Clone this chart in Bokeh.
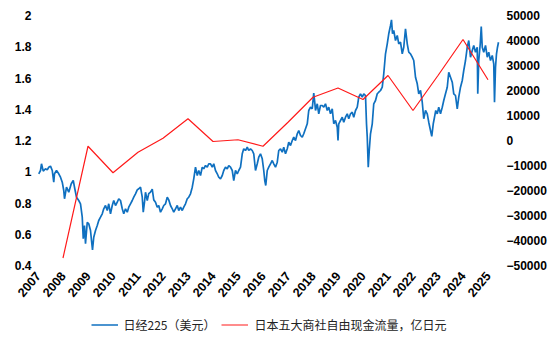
import math
from bokeh.plotting import figure
from bokeh.layouts import column
from bokeh.models import (Range1d, LinearAxis, FixedTicker, NumeralTickFormatter,
                          Legend, LegendItem, BasicTickFormatter)
from bokeh.embed import file_html
from bokeh.resources import INLINE

# ---- data ----
nikkei_years = [
    2007.03, 2007.10, 2007.14, 2007.21, 2007.30, 2007.37, 2007.43, 2007.50, 2007.57, 2007.63,
    2007.66, 2007.74, 2007.83, 2007.90, 2007.97, 2008.03, 2008.06, 2008.14, 2008.23, 2008.33,
    2008.41, 2008.46, 2008.54, 2008.63, 2008.70, 2008.77, 2008.81, 2008.86, 2008.90, 2008.97,
    2009.03, 2009.10, 2009.14, 2009.18, 2009.23, 2009.30, 2009.37, 2009.43, 2009.50, 2009.57,
    2009.63, 2009.70, 2009.77, 2009.83, 2009.90, 2009.97, 2010.03, 2010.10, 2010.17, 2010.23,
    2010.30, 2010.37, 2010.43, 2010.50, 2010.57, 2010.63, 2010.70, 2010.77, 2010.83, 2010.90,
    2010.97, 2011.03, 2011.10, 2011.17, 2011.21, 2011.26, 2011.30, 2011.37, 2011.43, 2011.50,
    2011.57, 2011.63, 2011.70, 2011.77, 2011.83, 2011.90, 2011.97, 2012.03, 2012.10, 2012.17,
    2012.23, 2012.30, 2012.37, 2012.43, 2012.50, 2012.57, 2012.63, 2012.70, 2012.77, 2012.83,
    2012.90, 2012.97, 2013.03, 2013.10, 2013.17, 2013.23, 2013.30, 2013.37, 2013.43, 2013.50,
    2013.57, 2013.63, 2013.70, 2013.77, 2013.83, 2013.90,
    2013.97, 2014.03, 2014.10, 2014.17, 2014.23, 2014.30, 2014.37, 2014.43, 2014.50, 2014.57,
    2014.63, 2014.70, 2014.77, 2014.83, 2014.90, 2014.97, 2015.03, 2015.10, 2015.17, 2015.23,
    2015.30, 2015.37, 2015.43, 2015.50, 2015.57, 2015.63, 2015.70, 2015.77, 2015.83, 2015.90,
    2015.97, 2016.03, 2016.07, 2016.11, 2016.17, 2016.23, 2016.30, 2016.37, 2016.43, 2016.50,
    2016.57, 2016.63, 2016.70, 2016.77, 2016.83, 2016.90, 2016.97, 2017.03, 2017.10, 2017.17,
    2017.23, 2017.30, 2017.37, 2017.43, 2017.50, 2017.57, 2017.63, 2017.70, 2017.77, 2017.83,
    2017.90, 2017.97, 2018.03, 2018.07, 2018.10, 2018.17, 2018.23, 2018.30, 2018.37, 2018.43,
    2018.50, 2018.57, 2018.63, 2018.70, 2018.77, 2018.83, 2018.90, 2018.97, 2019.00, 2019.03,
    2019.10, 2019.17, 2019.23, 2019.30, 2019.37, 2019.43, 2019.50, 2019.57, 2019.63, 2019.70,
    2019.77, 2019.83, 2019.90, 2019.97, 2020.03, 2020.10, 2020.14, 2020.17, 2020.21, 2020.25,
    2020.30, 2020.37, 2020.43, 2020.50, 2020.57, 2020.63, 2020.70,
    2020.77, 2020.83, 2020.90, 2020.97, 2021.03, 2021.10, 2021.14, 2021.18, 2021.23, 2021.30,
    2021.37, 2021.43, 2021.50, 2021.57, 2021.63, 2021.70, 2021.77, 2021.83, 2021.90, 2021.97,
    2022.03, 2022.10, 2022.17, 2022.23, 2022.30, 2022.37, 2022.43, 2022.50, 2022.57, 2022.63,
    2022.70, 2022.75, 2022.81, 2022.86, 2022.91, 2022.97, 2023.03, 2023.10, 2023.17, 2023.23,
    2023.30, 2023.37, 2023.43, 2023.50, 2023.57, 2023.63, 2023.70, 2023.77, 2023.83, 2023.90,
    2023.97, 2024.03, 2024.10, 2024.17, 2024.23, 2024.30, 2024.37, 2024.43, 2024.50, 2024.57,
    2024.59, 2024.63, 2024.69, 2024.73, 2024.77, 2024.83, 2024.90, 2024.97, 2025.03, 2025.10,
    2025.17, 2025.23, 2025.26, 2025.30, 2025.34, 2025.38, 2025.42,
]
nikkei_usd = [
    0.987, 1.008, 1.051, 1.004, 1.019, 1.012, 1.029, 1.036, 1.008, 0.933,
    0.987, 1.008, 0.987, 0.965, 0.933, 0.880, 0.827, 0.901, 0.869, 0.923,
    0.944, 0.901, 0.837, 0.816, 0.795, 0.709, 0.571, 0.656, 0.539, 0.677,
    0.667, 0.624, 0.560, 0.500, 0.581, 0.624, 0.656, 0.688, 0.709, 0.731,
    0.763, 0.784, 0.752, 0.795, 0.731, 0.784, 0.816, 0.784, 0.805, 0.827,
    0.816, 0.763, 0.731, 0.763, 0.741, 0.773, 0.795, 0.816, 0.837, 0.859,
    0.884, 0.891, 0.901, 0.837, 0.741, 0.805, 0.869, 0.816, 0.860, 0.870,
    0.889, 0.820, 0.805, 0.773, 0.784, 0.741, 0.763, 0.784, 0.795, 0.837,
    0.820, 0.784, 0.763, 0.741, 0.763, 0.784, 0.752, 0.773, 0.752, 0.773,
    0.795, 0.827, 0.837, 0.859, 0.901, 0.955, 1.029, 0.976, 1.008, 0.976,
    1.029, 1.019, 1.040, 1.029, 1.051, 1.051,
    1.029, 1.051, 1.008, 0.987, 0.965, 0.955, 0.976, 1.008, 1.029, 1.019,
    1.040, 1.029, 1.008, 0.944, 1.008, 0.987, 1.008, 1.029, 1.115, 1.147,
    1.136, 1.157, 1.136, 1.147, 1.136, 1.115, 1.008, 1.051, 1.093, 1.115,
    1.083, 1.008, 0.944, 0.912, 1.008, 1.029, 1.051, 1.072, 1.051, 1.029,
    1.061, 1.136, 1.147, 1.125, 1.157, 1.115, 1.147, 1.189, 1.168, 1.200,
    1.221, 1.200, 1.243, 1.264, 1.232, 1.221, 1.243, 1.275, 1.307, 1.392,
    1.413, 1.403, 1.503, 1.445, 1.392, 1.435, 1.371, 1.424, 1.424, 1.413,
    1.435, 1.392, 1.413, 1.371, 1.403, 1.307, 1.328, 1.285, 1.200, 1.307,
    1.328, 1.349, 1.317, 1.349, 1.371, 1.339, 1.371, 1.381, 1.349, 1.392,
    1.413, 1.477, 1.499, 1.477, 1.499, 1.488, 1.307, 1.221, 1.029, 1.136,
    1.243, 1.307, 1.435, 1.456, 1.499, 1.509, 1.520,
    1.541, 1.627, 1.755, 1.819, 1.883, 1.936, 1.972, 1.883, 1.904, 1.840,
    1.872, 1.819, 1.829, 1.755, 1.797, 1.915, 1.819, 1.765, 1.755, 1.733,
    1.712, 1.605, 1.563, 1.499, 1.520, 1.445, 1.339, 1.392, 1.371, 1.317,
    1.264, 1.226, 1.307, 1.349, 1.392, 1.371, 1.413, 1.371, 1.413, 1.456,
    1.499, 1.541, 1.637, 1.605, 1.573, 1.499, 1.488, 1.403, 1.477, 1.541,
    1.584, 1.648, 1.712, 1.797, 1.840, 1.733, 1.776, 1.808, 1.765, 1.797,
    1.499, 1.712, 1.819, 1.930, 1.797, 1.765, 1.808, 1.733, 1.765, 1.712,
    1.744, 1.691, 1.445, 1.669, 1.755, 1.797, 1.829,
]

fcf_years = [2008, 2009, 2010, 2011, 2012, 2013, 2014, 2015, 2016, 2017,
             2018, 2019, 2020, 2021, 2022, 2023, 2024, 2025]
fcf_values = [-47000, -2300, -12900, -4700, 900, 8700, -400, 300, -2300, 7300,
              17300, 21000, 16400, 26000, 12000, 26000, 40400, 24300]

year_ticks = list(range(2007, 2026))
left_ticks = [0.4, 0.6, 0.8, 1.0, 1.2, 1.4, 1.6, 1.8, 2.0]
right_ticks = list(range(-50000, 50001, 10000))

label_nikkei = "日经225（美元）"
label_fcf = "日本五大商社自由现金流量，亿日元"

BLUE = "#0f70c0"
RED = "#ff1a1a"

# ---- main figure ----
p = figure(width=554, height=304, output_backend="svg", toolbar_location=None,
           x_range=Range1d(2006.98, 2025.5), y_range=Range1d(0.4, 2.0),
           min_border_left=37, min_border_right=54, min_border_top=15,
           min_border_bottom=39)
p.extra_y_ranges = {"fcf": Range1d(-50000, 50000)}
p.outline_line_color = None
p.xgrid.grid_line_color = None
p.ygrid.grid_line_color = None

font = "Liberation Sans"

def style_axis(ax):
    ax.axis_line_color = None
    ax.major_tick_line_color = None
    ax.minor_tick_line_color = None
    ax.major_tick_out = 0
    ax.major_tick_in = 0
    ax.major_label_text_font = font
    ax.major_label_text_font_style = "bold"
    ax.major_label_text_font_size = "12px"
    ax.major_label_text_color = "black"
    ax.major_label_standoff = 6

xa = p.xaxis[0]
xa.ticker = FixedTicker(ticks=year_ticks)
xa.formatter = BasicTickFormatter(use_scientific=False)
xa.major_label_orientation = 0.87
style_axis(xa)
xa.major_label_text_font_size = "12.5px"
xa.major_label_standoff = 8

ya = p.yaxis[0]
ya.ticker = FixedTicker(ticks=left_ticks)
ya.formatter = NumeralTickFormatter(format="0.[0]")
style_axis(ya)

ra = LinearAxis(y_range_name="fcf", ticker=FixedTicker(ticks=right_ticks),
                formatter=BasicTickFormatter(use_scientific=False))
style_axis(ra)
p.add_layout(ra, "right")

p.line(nikkei_years, nikkei_usd, line_color=BLUE, line_width=1.7)
p.line(fcf_years, fcf_values, y_range_name="fcf", line_color=RED, line_width=1.2)

# ---- legend strip (proxy lines lie outside its visible range) ----
lg = figure(width=554, height=40, output_backend="svg", toolbar_location=None,
            x_range=Range1d(0, 1), y_range=Range1d(0, 1), min_border=0)
lg.axis.visible = False
lg.xgrid.grid_line_color = None
lg.ygrid.grid_line_color = None
lg.outline_line_color = None
lb = lg.line(x=[-5, -4], y=[-5, -4], line_color=BLUE, line_width=1.5)
lr = lg.line(x=[-5, -4], y=[-5, -4], line_color=RED, line_width=1.2)
legend = Legend(items=[LegendItem(label=label_nikkei, renderers=[lb]),
                       LegendItem(label=label_fcf, renderers=[lr])],
                orientation="horizontal", location="center",
                border_line_color=None, background_fill_alpha=0,
                label_text_font="Noto Sans CJK SC", label_text_font_size="12px",
                label_text_color="#222222",
                glyph_width=27, glyph_height=12, label_standoff=6, spacing=6,
                padding=2, margin=0)
lg.add_layout(legend, "center")

layout = column(p, lg, spacing=0)
open("out.html", "w").write(file_html(layout, INLINE))
